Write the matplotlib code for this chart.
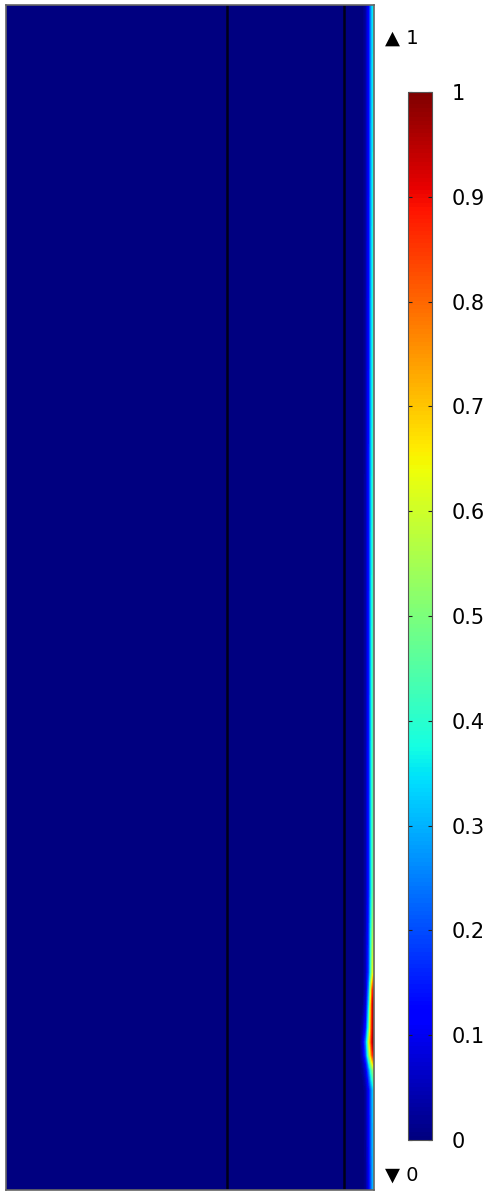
import numpy as np
import matplotlib.pyplot as plt
from matplotlib import cm, colors

# positions across the channel (wall on the right) and along the height
x_nodes = [0, 354, 357, 360, 363, 365, 366.5, 368]
y_nodes = [0, 100, 120, 135, 148, 162, 185, 200, 217, 300, 600, 1185]
# concentration table, one row per y node
conc = [
    [0, 0, 0.00, 0.02, 0.10, 0.20, 0.28, 0.33],
    [0, 0, 0.00, 0.03, 0.12, 0.22, 0.30, 0.35],
    [0, 0, 0.02, 0.08, 0.25, 0.40, 0.50, 0.55],
    [0, 0, 0.06, 0.20, 0.50, 0.70, 0.85, 0.90],
    [0, 0, 0.08, 0.25, 0.60, 0.80, 0.95, 0.98],
    [0, 0, 0.04, 0.15, 0.45, 0.75, 0.92, 0.97],
    [0, 0, 0.01, 0.08, 0.35, 0.70, 0.92, 0.96],
    [0, 0, 0.00, 0.06, 0.28, 0.60, 0.85, 0.90],
    [0, 0, 0.00, 0.05, 0.20, 0.42, 0.60, 0.64],
    [0, 0, 0.00, 0.04, 0.15, 0.32, 0.44, 0.48],
    [0, 0, 0.00, 0.04, 0.14, 0.30, 0.40, 0.44],
    [0, 0, 0.00, 0.03, 0.12, 0.25, 0.34, 0.37],
]
boundaries_x = [221, 338]   # internal domain boundaries
cbar_ticks = [0, 0.1, 0.2, 0.3, 0.4, 0.5, 0.6, 0.7, 0.8, 0.9, 1]
cbar_labels = ["0", "0.1", "0.2", "0.3", "0.4", "0.5", "0.6", "0.7", "0.8", "0.9", "1"]

fig = plt.figure(figsize=(4.89, 11.95), dpi=100)
ax = fig.add_axes([6/489, 5/1195, 368/489, 1185/1195])

norm = colors.Normalize(0, 1)
ax.contourf(x_nodes, y_nodes, np.array(conc), levels=np.linspace(0, 1, 201),
            cmap="jet", norm=norm, extend="both")
for xb in boundaries_x:
    ax.axvline(xb, color="#000018", lw=1.8)
ax.set_xlim(0, 368)
ax.set_ylim(0, 1185)
ax.set_xticks([])
ax.set_yticks([])
for s in ax.spines.values():
    s.set_color("#666666")
    s.set_linewidth(1.2)

cax = fig.add_axes([408/489, 55/1195, 24/489, 1048/1195])
sm = cm.ScalarMappable(norm=norm, cmap="jet")
cb = fig.colorbar(sm, cax=cax, ticks=cbar_ticks)
cb.ax.set_yticklabels(cbar_labels)
cb.outline.set_edgecolor("#555555")
cb.ax.tick_params(direction="in", length=3, width=0.8, left=True, right=True,
                  labelsize=15, pad=14, color="#222222")

fig.text(385/489, 1 - 38/1195, "\u25b2 1", fontsize=14, va="center", ha="left")
fig.text(385/489, 1 - 1175/1195, "\u25bc 0", fontsize=14, va="center", ha="left")

fig.savefig("out.png", dpi=100)
